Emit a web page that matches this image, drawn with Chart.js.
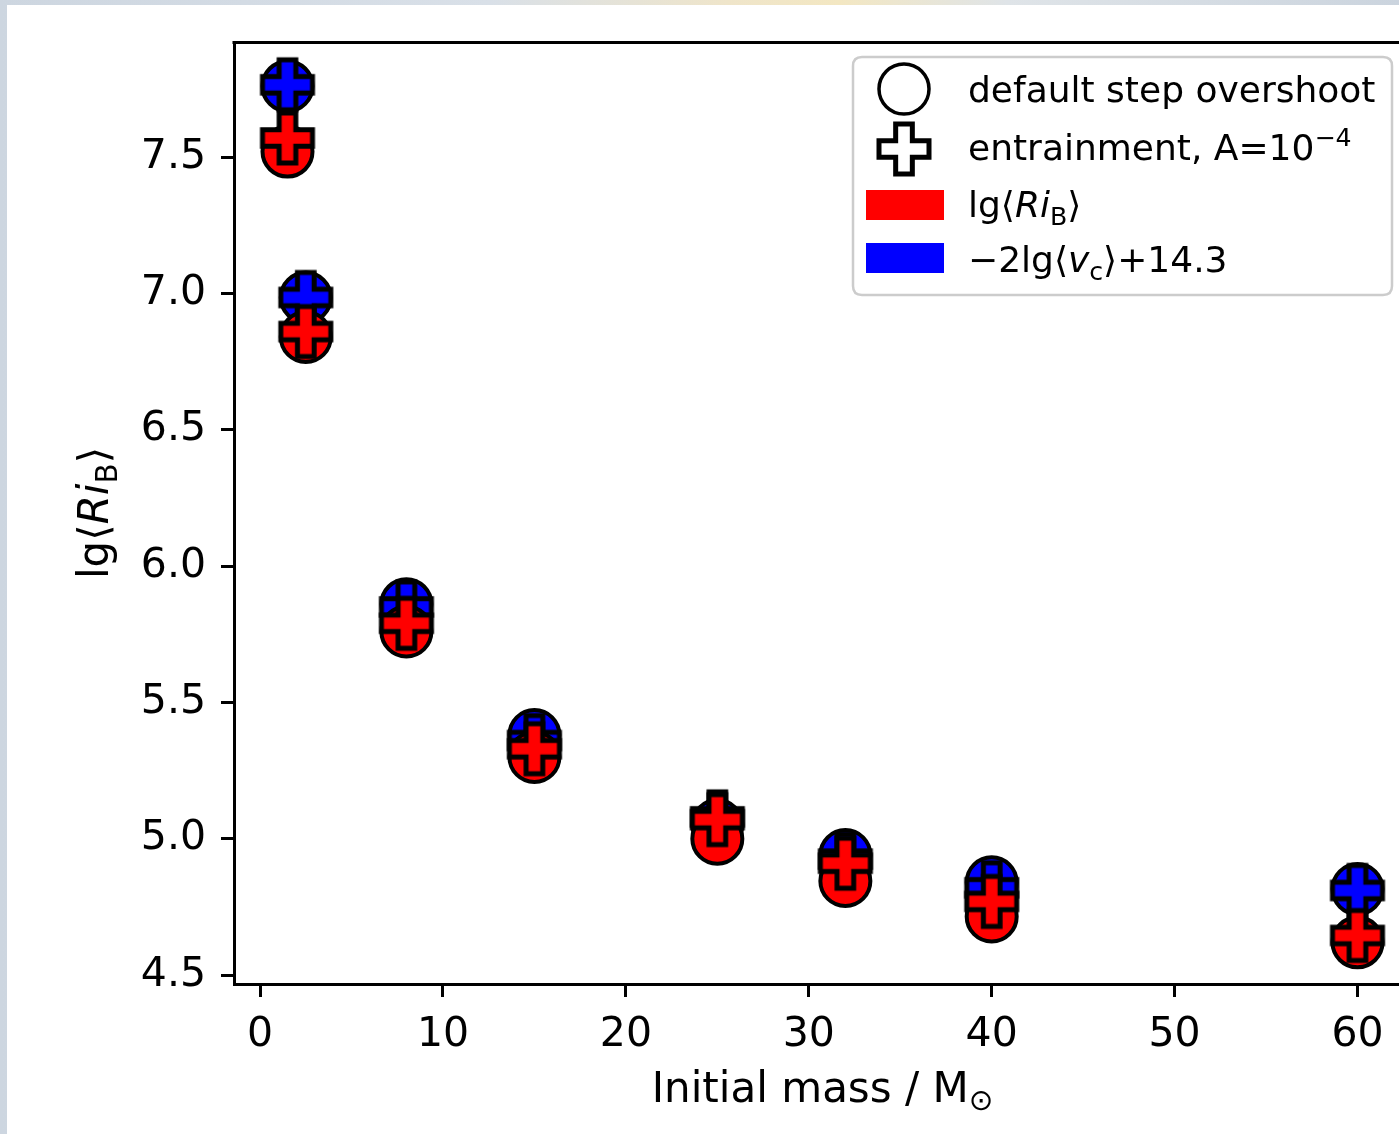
<!DOCTYPE html>
<html><head><meta charset="utf-8">
<script src="https://cdn.jsdelivr.net/npm/chart.js@4/dist/chart.umd.min.js"></script>
<style>
html,body{margin:0;padding:0;width:1399px;height:1134px;overflow:hidden;}
body{background:linear-gradient(90deg,#cdd6e0 0%,#d9e0e8 35%,#efe5ca 52%,#f3e7c2 60%,#dfe4e8 72%,#cbd4de 100%);position:relative;}
#panel{position:absolute;left:7px;top:5px;width:1440px;height:1140px;background:#fff;}
#wrap{position:absolute;left:0;top:0;width:1440px;height:1134px;}
</style></head><body>
<div id="panel"></div>
<div id="wrap"><canvas id="c" width="1440" height="1134"></canvas></div>
<script>
// ---- data ----
const masses = [1.5, 2.5, 8, 15, 25, 32, 40, 60];
const riDefault = [7.52, 6.84, 5.76, 5.30, 5.00, 4.845, 4.715, 4.62];
const riEntrain = [7.57, 6.86, 5.79, 5.33, 5.07, 4.91, 4.77, 4.645];
const vcDefault = [7.76, 6.985, 5.86, 5.38, 5.05, 4.94, 4.84, 4.815];
const vcEntrain = [7.765, 6.985, 5.85, 5.36, 5.08, 4.925, 4.82, 4.81];
const xTickValues = [0, 10, 20, 30, 40, 50, 60];
const yTickValues = [4.5, 5.0, 5.5, 6.0, 6.5, 7.0, 7.5];
const legendLabels = ['default step overshoot', 'entrainment, A=10', 'lg⟨Ri', '−2lg⟨v'];

const FONT = '"DejaVu Sans"';
const F = (s, st) => (st ? st + ' ' : '') + s + 'px ' + FONT;

function makePlus(fill, size, lw) {
  const pad = Math.ceil(lw) + 1;
  const dim = Math.round(size + 2 * pad);
  const c = document.createElement('canvas');
  c.width = c.height = dim;
  const g = c.getContext('2d');
  const h = size / 2, a = size / 6, cx = dim / 2;
  const pts = [[-a,-h],[a,-h],[a,-a],[h,-a],[h,a],[a,a],[a,h],[-a,h],[-a,a],[-h,a],[-h,-a],[-a,-a]];
  g.beginPath();
  pts.forEach(([x, y], i) => i ? g.lineTo(cx + x, cx + y) : g.moveTo(cx + x, cx + y));
  g.closePath();
  g.fillStyle = fill; g.fill();
  g.lineJoin = 'miter'; g.lineWidth = lw; g.strokeStyle = '#000'; g.stroke();
  return c;
}
const MS = 50;
const plusRed = makePlus('#ff0000', MS, 5);
const plusBlue = makePlus('#0000ff', MS, 5);
const plusWhite = makePlus('#ffffff', MS, 5);

function pts(ys) { return masses.map((m, i) => ({x: m, y: ys[i]})); }

function runsWidth(ctx, runs) { let w = 0; for (const r of runs) { ctx.font = r.font; w += ctx.measureText(r.t).width; } return w; }
function drawRuns(ctx, runs, x, y) { for (const r of runs) { ctx.font = r.font; ctx.fillText(r.t, x, y + (r.dy || 0)); x += ctx.measureText(r.t).width; } }

const TITLE = 42, LEG = 36;
const decor = {
  id: 'decor',
  afterDraw(chart) {
    const ctx = chart.ctx, ca = chart.chartArea;
    ctx.save();
    // top & right spines
    ctx.strokeStyle = '#000'; ctx.lineWidth = 3;
    ctx.beginPath(); ctx.moveTo(ca.left - 1.5, ca.top + 0.5); ctx.lineTo(ca.right + 1.5, ca.top + 0.5);
    ctx.moveTo(ca.right + 0.5, ca.top); ctx.lineTo(ca.right + 0.5, ca.bottom); ctx.stroke();
    ctx.fillStyle = '#000'; ctx.textBaseline = 'alphabetic'; ctx.textAlign = 'left';
    // x title
    const xr = [{t: 'Initial mass / M', font: F(TITLE)}, {t: '⊙', font: F(TITLE * 0.7), dy: TITLE * 0.2}];
    const xw = runsWidth(ctx, xr);
    drawRuns(ctx, xr, (ca.left + ca.right) / 2 - xw / 2, 1102);
    // y title
    const yr = [{t: 'lg⟨', font: F(TITLE)}, {t: 'Ri', font: F(TITLE, 'italic')}, {t: 'B', font: F(TITLE * 0.7), dy: TITLE * 0.22}, {t: '⟩', font: F(TITLE)}];
    const yw = runsWidth(ctx, yr);
    ctx.save(); ctx.translate(108, (ca.top + ca.bottom) / 2); ctx.rotate(-Math.PI / 2);
    drawRuns(ctx, yr, -yw / 2, 0); ctx.restore();
    // legend frame
    const L = 853, T = 57, R = 1392, B = 295, rad = 9;
    ctx.beginPath();
    ctx.moveTo(L + rad, T); ctx.lineTo(R - rad, T); ctx.quadraticCurveTo(R, T, R, T + rad);
    ctx.lineTo(R, B - rad); ctx.quadraticCurveTo(R, B, R - rad, B);
    ctx.lineTo(L + rad, B); ctx.quadraticCurveTo(L, B, L, B - rad);
    ctx.lineTo(L, T + rad); ctx.quadraticCurveTo(L, T, L + rad, T); ctx.closePath();
    ctx.fillStyle = 'rgba(255,255,255,0.8)'; ctx.fill();
    ctx.strokeStyle = '#cccccc'; ctx.lineWidth = 2.5; ctx.stroke();
    // handles
    ctx.beginPath(); ctx.arc(904, 89, MS / 2, 0, Math.PI * 2);
    ctx.fillStyle = '#fff'; ctx.fill(); ctx.lineWidth = 3.5; ctx.strokeStyle = '#000'; ctx.stroke();
    ctx.drawImage(plusWhite, 904 - plusWhite.width / 2, 149 - plusWhite.height / 2);
    ctx.fillStyle = '#ff0000'; ctx.fillRect(866, 190, 78, 30);
    ctx.fillStyle = '#0000ff'; ctx.fillRect(866, 243, 78, 30);
    // legend texts
    ctx.fillStyle = '#000';
    const tx = 968;
    drawRuns(ctx, [{t: legendLabels[0], font: F(LEG)}], tx, 102);
    drawRuns(ctx, [{t: legendLabels[1], font: F(LEG)}, {t: '−4', font: F(LEG * 0.7), dy: -LEG * 0.4}], tx, 160);
    drawRuns(ctx, [{t: 'lg⟨', font: F(LEG)}, {t: 'Ri', font: F(LEG, 'italic')}, {t: 'B', font: F(LEG * 0.7), dy: LEG * 0.22}, {t: '⟩', font: F(LEG)}], tx, 217);
    drawRuns(ctx, [{t: '−2lg⟨', font: F(LEG)}, {t: 'v', font: F(LEG, 'italic')}, {t: 'c', font: F(LEG * 0.7), dy: LEG * 0.22}, {t: '⟩+14.3', font: F(LEG)}], tx, 272);
    ctx.restore();
  }
};

const tickFont = {family: FONT, size: 41};
const gridCommon = {display: true, drawOnChartArea: false, drawTicks: true, tickLength: 13, tickWidth: 3, color: '#000', tickColor: '#000', lineWidth: 3};

new Chart(document.getElementById('c'), {
  type: 'scatter',
  data: {
    datasets: [
      {label: 'RiB entrainment', data: pts(riEntrain), pointStyle: plusRed, order: 1},
      {label: 'RiB default', data: pts(riDefault), pointStyle: 'circle', pointRadius: MS / 2, backgroundColor: '#ff0000', borderColor: '#000', pointBorderWidth: 4, order: 2},
      {label: 'vc entrainment', data: pts(vcEntrain), pointStyle: plusBlue, order: 3},
      {label: 'vc default', data: pts(vcDefault), pointStyle: 'circle', pointRadius: MS / 2, backgroundColor: '#0000ff', borderColor: '#000', pointBorderWidth: 4, order: 4}
    ]
  },
  options: {
    responsive: false, animation: false, devicePixelRatio: 1,
    layout: {padding: {top: 42, right: 10, bottom: 0, left: 0}},
    plugins: {legend: {display: false}, tooltip: {enabled: false}},
    events: [],
    scales: {
      x: {
        type: 'linear', position: 'bottom', min: -1.425, max: 62.925,
        afterBuildTicks: s => { s.ticks = xTickValues.map(v => ({value: v})); },
        afterFit: s => { s.height = 150; s.paddingLeft = 0; s.paddingRight = 0; },
        ticks: {font: tickFont, color: '#000', padding: 14, maxRotation: 0, autoSkip: false, callback: v => String(v)},
        grid: gridCommon,
        border: {display: true, color: '#000', width: 3}
      },
      y: {
        type: 'linear', position: 'left', min: 4.467, max: 7.922,
        afterBuildTicks: s => { s.ticks = yTickValues.map(v => ({value: v})); },
        afterFit: s => { s.width = 234; s.paddingTop = 0; s.paddingBottom = 0; },
        ticks: {font: tickFont, color: '#000', padding: 15, autoSkip: false, callback: v => Number(v).toFixed(1)},
        grid: gridCommon,
        border: {display: true, color: '#000', width: 3}
      }
    }
  },
  plugins: [decor]
});
</script>
</body></html>
